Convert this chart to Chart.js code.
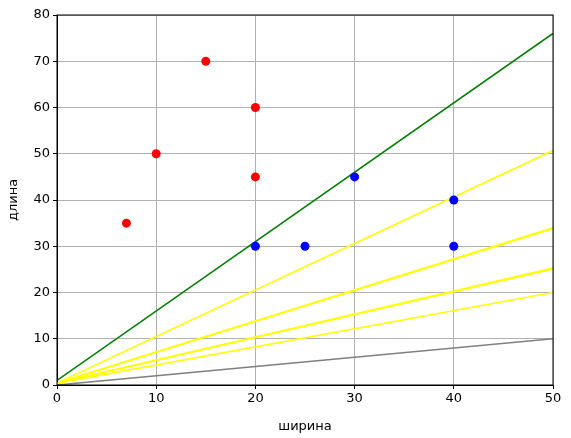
<!DOCTYPE html>
<html>
<head>
<meta charset="utf-8">
<script src="https://cdn.jsdelivr.net/npm/chart.js@4.4.0/dist/chart.umd.min.js"></script>
<style>
  html, body { margin: 0; padding: 0; background: #fff; }
  #wrap { width: 571px; height: 438px; }
</style>
</head>
<body>
<div id="wrap"><canvas id="c"></canvas></div>
<script>
// точки
const redX = [7, 10, 15, 20, 20];
const redY = [35, 50, 70, 60, 45];
const blueX = [20, 25, 30, 40, 40];
const blueY = [30, 30, 45, 40, 30];

// линии: [x0, y0, x1, y1]
const greenLine = [0, 1, 50, 76];
const grayLine = [0, 0, 50, 10];
const yellowLines = [
    [0, 0.4, 50, 50.7],
    [0, 0.4, 50, 34.0],
    [0, 0.4, 50, 33.8],
    [0, 0.4, 50, 25.3],
    [0, 0.4, 50, 25.1],
    [0, 0.4, 50, 20.0]
];

const xTicks = [0, 10, 20, 30, 40, 50];
const yTicks = [0, 10, 20, 30, 40, 50, 60, 70, 80];

const toPts = (xs, ys) => xs.map((x, i) => ({ x: x, y: ys[i] }));
const lineSet = (l, color) => ({
    type: 'line',
    data: [{ x: l[0], y: l[1] }, { x: l[2], y: l[3] }],
    borderColor: color,
    borderWidth: 1.6,
    pointRadius: 0,
    fill: false,
    order: 2
});

const datasets = [];
yellowLines.forEach(l => datasets.push(lineSet(l, '#ffff00')));
datasets.push(lineSet(greenLine, '#008000'));
datasets.push(lineSet(grayLine, '#808080'));
datasets.push({ type: 'scatter', data: toPts(redX, redY), backgroundColor: '#ff0000', borderWidth: 0, pointRadius: 4.5, order: 1 });
datasets.push({ type: 'scatter', data: toPts(blueX, blueY), backgroundColor: '#0000ff', borderWidth: 0, pointRadius: 4.5, order: 1 });

// рамка вокруг области графика
const frame = {
    id: 'frame',
    afterDraw(chart) {
        const a = chart.chartArea, ctx = chart.ctx;
        ctx.save();
        ctx.strokeStyle = '#000';
        ctx.lineWidth = 1;
        ctx.strokeRect(a.left, a.top, a.right - a.left, a.bottom - a.top);
        ctx.restore();
    }
};

const font = { family: 'DejaVu Sans', size: 13 };

new Chart(document.getElementById('c'), {
    type: 'scatter',
    data: { datasets: datasets },
    options: {
        responsive: true,
        maintainAspectRatio: false,
        animation: false,
        layout: { padding: { top: 15, right: 18, left: 0, bottom: 0 } },
        plugins: { legend: { display: false }, tooltip: { enabled: false } },
        scales: {
            x: {
                type: 'linear', min: 0, max: 50,
                afterBuildTicks: ax => { ax.ticks = xTicks.map(v => ({ value: v })); },
                afterFit: ax => { ax.height = 53; },
                grid: { color: '#b0b0b0', tickColor: '#000', tickLength: 4 },
                border: { color: '#000' },
                ticks: { color: '#000', font: font, maxRotation: 0, padding: 2 },
                title: { display: true, text: 'ширина', color: '#000', font: font, padding: { top: 0, bottom: 4 } }
            },
            y: {
                type: 'linear', min: 0, max: 80,
                afterBuildTicks: ax => { ax.ticks = yTicks.map(v => ({ value: v })); },
                afterFit: ax => { ax.width = 57; },
                grid: { color: '#b0b0b0', tickColor: '#000', tickLength: 4 },
                border: { color: '#000' },
                ticks: { color: '#000', font: font, padding: 3 },
                title: { display: true, text: 'длина', color: '#000', font: font, padding: { top: 6, bottom: 0 } }
            }
        }
    },
    plugins: [frame]
});
</script>
</body>
</html>
